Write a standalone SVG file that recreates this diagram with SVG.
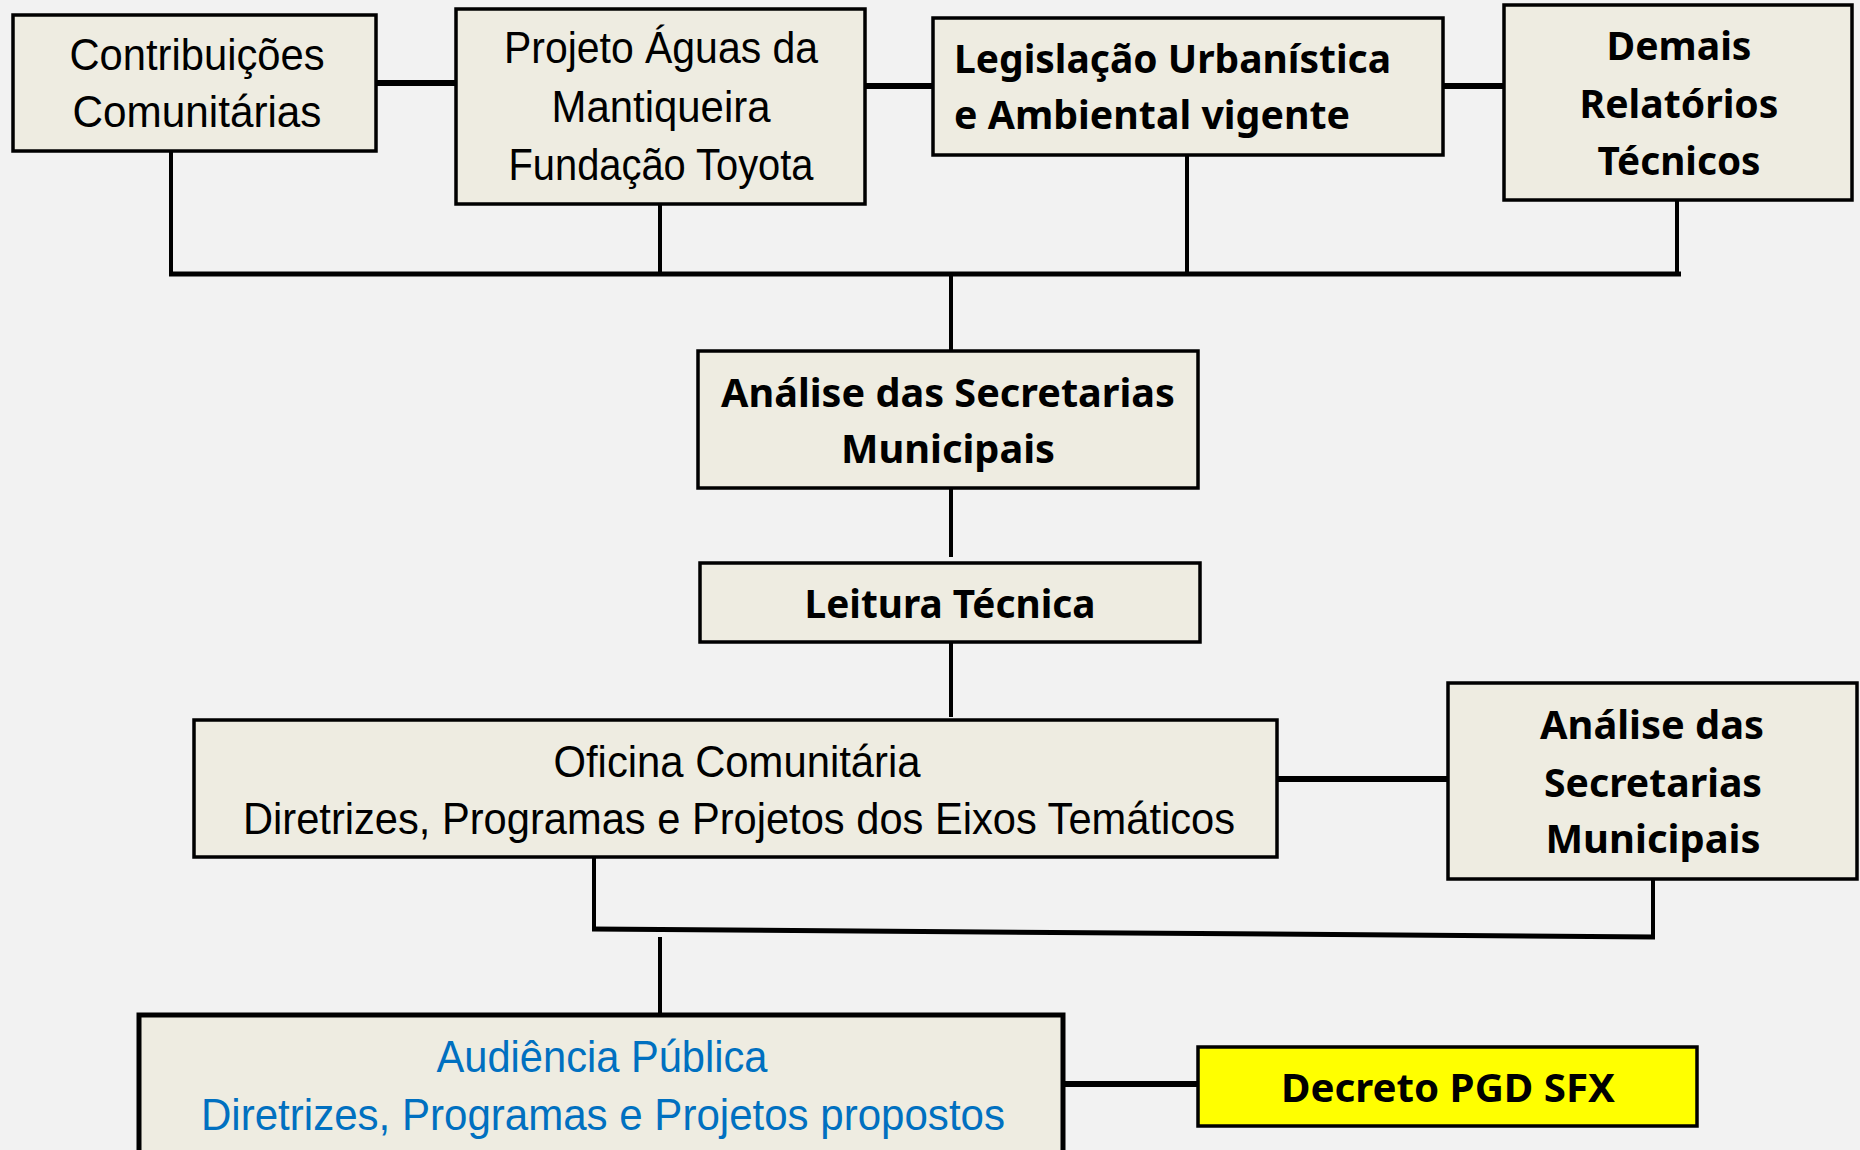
<svg xmlns="http://www.w3.org/2000/svg" width="1860" height="1150" viewBox="0 0 1860 1150">
<style>
.box{fill:#EEECE1;stroke:#000;stroke-width:3.5}
.reg{font-family:"Liberation Sans",Arial,sans-serif;font-size:44px;fill:#000;text-anchor:middle}
.bold{font-family:"Noto Sans","Open Sans",sans-serif;font-weight:bold;font-size:40px;fill:#000;text-anchor:middle}
.blue{fill:#0070C0}
.c{stroke:#000;fill:none;stroke-linecap:butt}
</style>
<rect x="0" y="0" width="1860" height="1150" fill="#F2F2F2"/>
<g id="connectors">
<line class="c" x1="376" y1="83" x2="456" y2="83" stroke-width="6"/>
<line class="c" x1="865" y1="86" x2="933" y2="86" stroke-width="6"/>
<line class="c" x1="1442" y1="86" x2="1504" y2="86" stroke-width="6"/>
<line class="c" x1="171" y1="151" x2="171" y2="272" stroke-width="4"/>
<line class="c" x1="660" y1="204" x2="660" y2="272" stroke-width="4"/>
<line class="c" x1="1187" y1="155" x2="1187" y2="272" stroke-width="4"/>
<line class="c" x1="1677" y1="200" x2="1677" y2="272" stroke-width="4"/>
<line class="c" x1="169" y1="274" x2="1681" y2="274" stroke-width="5"/>
<line class="c" x1="951" y1="274" x2="951" y2="351" stroke-width="4"/>
<line class="c" x1="951" y1="488" x2="951" y2="557" stroke-width="4"/>
<line class="c" x1="951" y1="642" x2="951" y2="717" stroke-width="4"/>
<line class="c" x1="1277" y1="779" x2="1448" y2="779" stroke-width="6"/>
<line class="c" x1="594" y1="857" x2="594" y2="931" stroke-width="4"/>
<line class="c" x1="1653" y1="879" x2="1653" y2="939" stroke-width="4"/>
<line class="c" x1="592" y1="929" x2="1655" y2="937" stroke-width="5"/>
<line class="c" x1="660" y1="937" x2="660" y2="1013" stroke-width="4"/>
<line class="c" x1="1063" y1="1084" x2="1198" y2="1084" stroke-width="6"/>
</g>
<g id="contribuicoes">
<rect class="box" x="13" y="15" width="363" height="136"/>
<text class="reg" x="197" y="70" textLength="255" lengthAdjust="spacingAndGlyphs">Contribuições</text>
<text class="reg" x="197" y="127" textLength="249" lengthAdjust="spacingAndGlyphs">Comunitárias</text>
</g>
<g id="projeto">
<rect class="box" x="456" y="9" width="409" height="195"/>
<text class="reg" x="661" y="63" textLength="314" lengthAdjust="spacingAndGlyphs">Projeto Águas da</text>
<text class="reg" x="661" y="122" textLength="219" lengthAdjust="spacingAndGlyphs">Mantiqueira</text>
<text class="reg" x="661" y="180" textLength="305" lengthAdjust="spacingAndGlyphs">Fundação Toyota</text>
</g>
<g id="legislacao">
<rect class="box" x="933" y="18" width="510" height="137"/>
<text class="bold" x="954" y="73" text-anchor="start" style="text-anchor:start" textLength="437" lengthAdjust="spacingAndGlyphs">Legislação Urbanística</text>
<text class="bold" x="954" y="129" style="text-anchor:start" textLength="396" lengthAdjust="spacingAndGlyphs">e Ambiental vigente</text>
</g>
<g id="demais">
<rect class="box" x="1504" y="5" width="348" height="195"/>
<text class="bold" x="1679" y="60" textLength="145" lengthAdjust="spacingAndGlyphs">Demais</text>
<text class="bold" x="1679" y="118" textLength="199" lengthAdjust="spacingAndGlyphs">Relatórios</text>
<text class="bold" x="1679" y="175" textLength="163" lengthAdjust="spacingAndGlyphs">Técnicos</text>
</g>
<g id="analise1">
<rect class="box" x="698" y="351" width="500" height="137"/>
<text class="bold" x="948" y="407" textLength="454" lengthAdjust="spacingAndGlyphs">Análise das Secretarias</text>
<text class="bold" x="948" y="463" textLength="214" lengthAdjust="spacingAndGlyphs">Municipais</text>
</g>
<g id="leitura">
<rect class="box" x="700" y="563" width="500" height="79"/>
<text class="bold" x="950" y="618" textLength="291" lengthAdjust="spacingAndGlyphs">Leitura Técnica</text>
</g>
<g id="oficina">
<rect class="box" x="194" y="720" width="1083" height="137"/>
<text class="reg" x="737" y="777" textLength="367" lengthAdjust="spacingAndGlyphs">Oficina Comunitária</text>
<text class="reg" x="739" y="834" textLength="992" lengthAdjust="spacingAndGlyphs">Diretrizes, Programas e Projetos dos Eixos Temáticos</text>
</g>
<g id="analise2">
<rect class="box" x="1448" y="683" width="409" height="196"/>
<text class="bold" x="1652" y="739" textLength="224" lengthAdjust="spacingAndGlyphs">Análise das</text>
<text class="bold" x="1653" y="797" textLength="218" lengthAdjust="spacingAndGlyphs">Secretarias</text>
<text class="bold" x="1653" y="853" textLength="215" lengthAdjust="spacingAndGlyphs">Municipais</text>
</g>
<g id="audiencia">
<rect class="box" x="139" y="1015" width="924" height="150" style="stroke-width:5"/>
<text class="reg blue" x="602" y="1072" textLength="331" lengthAdjust="spacingAndGlyphs">Audiência Pública</text>
<text class="reg blue" x="603" y="1130" textLength="804" lengthAdjust="spacingAndGlyphs">Diretrizes, Programas e Projetos propostos</text>
</g>
<g id="decreto">
<rect class="box" x="1198" y="1047" width="499" height="79" style="fill:#FFFF00"/>
<text class="bold" x="1448" y="1102" textLength="334" lengthAdjust="spacingAndGlyphs">Decreto PGD SFX</text>
</g>
</svg>
